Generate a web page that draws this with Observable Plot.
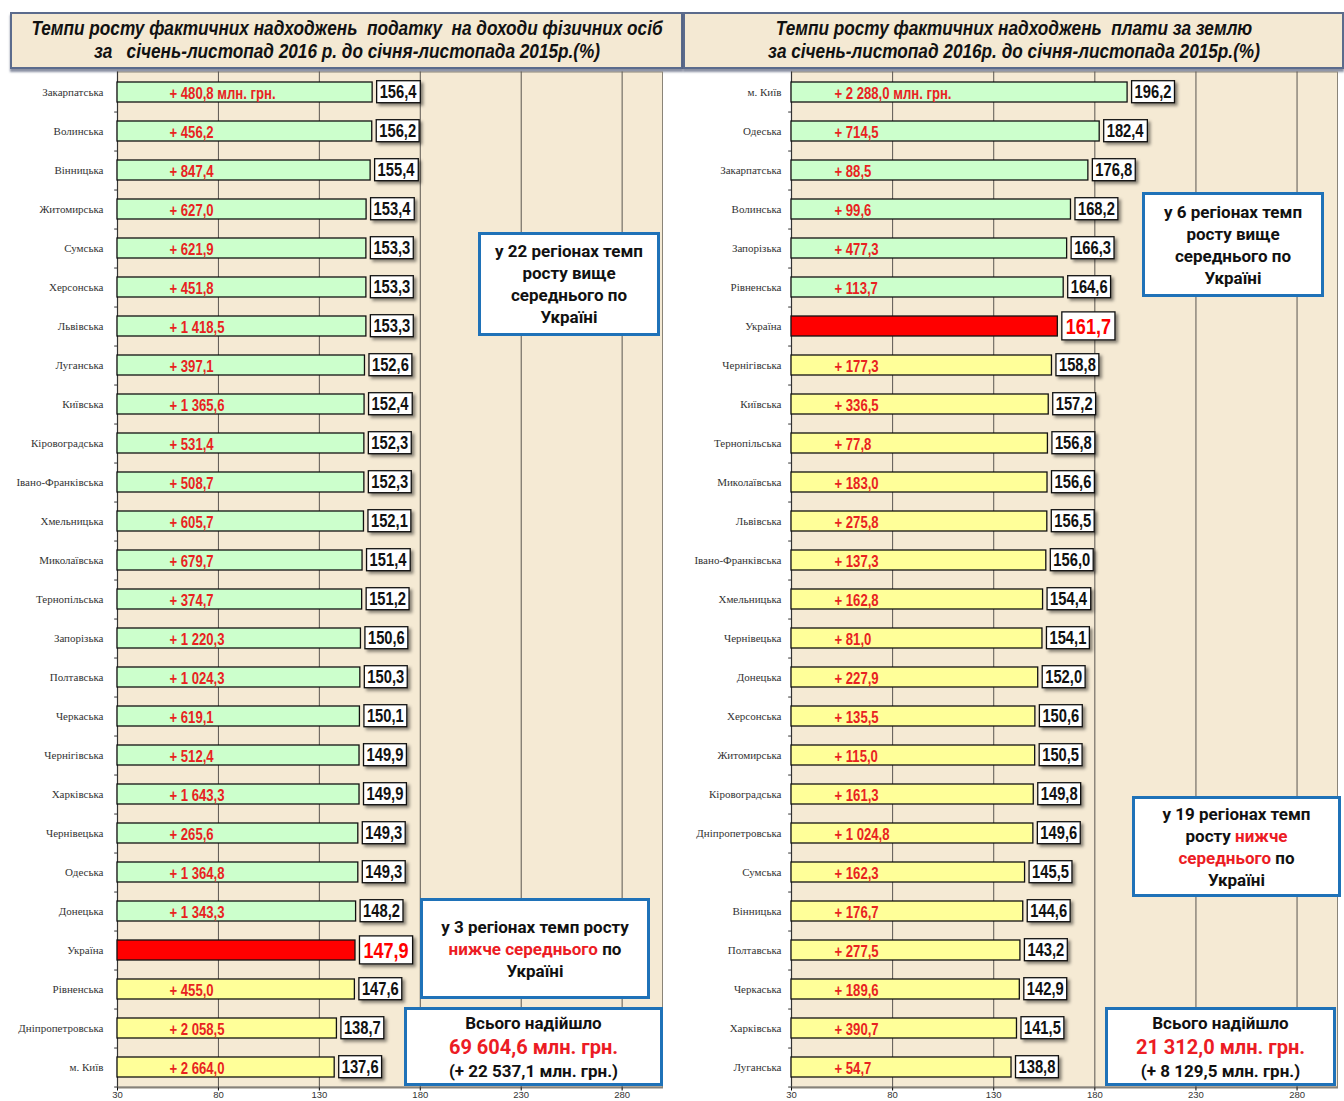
<!DOCTYPE html>
<html><head><meta charset="utf-8">
<script src="https://cdn.jsdelivr.net/npm/d3@7"></script>
<script src="https://cdn.jsdelivr.net/npm/@observablehq/plot@0.6"></script>
<style>
body{margin:0;width:1344px;height:1101px;overflow:hidden;position:relative;background:#fff;}
.title{position:absolute;box-sizing:border-box;background:#f4e9d3;border:2px solid #5b6b8c;box-shadow:0 3px 2px rgba(60,70,100,.6);
 font-family:"Liberation Sans",Arial,sans-serif;font-style:italic;font-weight:bold;font-size:20px;line-height:23px;color:#111;padding-top:3px;overflow:hidden;}
.title span{display:block;position:relative;left:50%;width:max-content;white-space:nowrap;transform:translateX(-50%) scaleX(0.86);transform-origin:center;}
.note{position:absolute;box-sizing:border-box;background:#fff;border:3px solid #1f72b8;font-family:Roboto,"Liberation Sans",sans-serif;font-weight:bold;font-size:17px;line-height:22px;color:#111;text-align:center;display:flex;flex-direction:column;justify-content:center;}
.red{color:#ec1c24;}
.big{font-size:20px;line-height:26px;}
.panel{position:absolute;top:70px;}
</style></head>
<body>
<div class="title" style="left:10px;top:12px;width:673px;height:57px"><span>Темпи росту фактичних надходжень&nbsp; податку&nbsp; на доходи фізичних осіб</span><span>за&nbsp;&nbsp; січень-листопад 2016 р. до січня-листопада 2015р.(%)</span></div>
<div class="title" style="left:683px;top:12px;width:661px;height:57px"><span>Темпи росту фактичних надходжень&nbsp; плати за землю</span><span>за січень-листопад 2016р. до січня-листопада 2015р.(%)</span></div>
<div id="left" class="panel" style="left:0px"></div>
<div id="right" class="panel" style="left:680px"></div>

<div class="note" style="left:478px;top:232px;width:182px;height:104px">у 22 регіонах темп<br>росту вище<br>середнього по<br>Україні</div>
<div class="note" style="left:420px;top:898px;width:230px;height:101px">у 3 регіонах темп росту<br><span><span class="red">нижче середнього</span> по</span>Україні</div>
<div class="note" style="left:404px;top:1007px;width:259px;height:79px">Всього надійшло<br><span class="red big">69 604,6 млн. грн.</span>(+ 22 537,1 млн. грн.)</div>

<div class="note" style="left:1142px;top:192px;width:182px;height:105px">у 6 регіонах темп<br>росту вище<br>середнього по<br>Україні</div>
<div class="note" style="left:1132px;top:796px;width:209px;height:101px">у 19 регіонах темп<br><span>росту <span class="red">нижче</span></span><span><span class="red">середнього</span> по</span>Україні</div>
<div class="note" style="left:1105px;top:1007px;width:231px;height:79px">Всього надійшло<br><span class="red big">21 312,0 млн. грн.</span>(+ 8 129,5 млн. грн.)</div>

<script>
const xTicks = [30, 80, 130, 180, 230, 280];
const averageName = "Україна";

const pitRegions = ["Закарпатська","Волинська","Вінницька","Житомирська","Сумська","Херсонська","Львівська","Луганська","Київська","Кіровоградська","Івано-Франківська","Хмельницька","Миколаївська","Тернопільська","Запорізька","Полтавська","Черкаська","Чернігівська","Харківська","Чернівецька","Одеська","Донецька","Україна","Рівненська","Дніпропетровська","м. Київ"];
const pitValues = [156.4,156.2,155.4,153.4,153.3,153.3,153.3,152.6,152.4,152.3,152.3,152.1,151.4,151.2,150.6,150.3,150.1,149.9,149.9,149.3,149.3,148.2,147.9,147.6,138.7,137.6];
const pitIncrease = [480.8,456.2,847.4,627.0,621.9,451.8,1418.5,397.1,1365.6,531.4,508.7,605.7,679.7,374.7,1220.3,1024.3,619.1,512.4,1643.3,265.6,1364.8,1343.3,null,455.0,2058.5,2664.0];

const landRegions = ["м. Київ","Одеська","Закарпатська","Волинська","Запорізька","Рівненська","Україна","Чернігівська","Київська","Тернопільська","Миколаївська","Львівська","Івано-Франківська","Хмельницька","Чернівецька","Донецька","Херсонська","Житомирська","Кіровоградська","Дніпропетровська","Сумська","Вінницька","Полтавська","Черкаська","Харківська","Луганська"];
const landValues = [196.2,182.4,176.8,168.2,166.3,164.6,161.7,158.8,157.2,156.8,156.6,156.5,156.0,154.4,154.1,152.0,150.6,150.5,149.8,149.6,145.5,144.6,143.2,142.9,141.5,138.8];
const landIncrease = [2288.0,714.5,88.5,99.6,477.3,113.7,null,177.3,336.5,77.8,183.0,275.8,137.3,162.8,81.0,227.9,135.5,115.0,161.3,1024.8,162.3,176.7,277.5,189.6,390.7,54.7];

const sans = '"Liberation Sans",Arial,sans-serif';
const SX = 0.82; // horizontal condensing of bold labels

function fmt(v) {
  const [i, f] = v.toFixed(1).split(".");
  return i.replace(/\B(?=(\d{3})+(?!\d))/g, " ") + "," + f;
}

function panel(el, regions, values, increases, o) {
  const data = regions.map((r, i) => ({region: r, value: values[i], inc: increases[i], i}));
  const avg = data.find(d => d.region === averageName).value;
  const fillOf = d => d.region === averageName ? "#ff0000" : d.value > avg ? "#ccffcc" : "#ffff99";
  const chart = Plot.plot({
    width: o.width, height: 1040,
    marginLeft: o.ml, marginRight: o.mr, marginTop: 1.5, marginBottom: 22.5,
    x: {domain: [30, 300], label: null},
    y: {domain: regions, paddingInner: 0.49, paddingOuter: 0.245, label: null},
    style: {background: "transparent", overflow: "visible"},
    marks: [
      Plot.frame({fill: "#f5ead4", stroke: "#8a8478"}),
      Plot.ruleX(xTicks.slice(1), {stroke: "#5a5650", strokeWidth: 1}),
      Plot.ruleY(regions, {y: d => d, x1: 28.6, x2: 30, dy: 19.54, stroke: "#333"}),
      Plot.ruleX([30], {stroke: "#333", strokeWidth: 1.2}),
      Plot.ruleY([regions[regions.length - 1]], {x1: 30, x2: 300, dy: 19.54, stroke: "#555"}),
      Plot.barX(data, {x1: 30, x2: "value", y: "region", fill: fillOf, stroke: "#111", strokeWidth: 1.3}),
      Plot.text(data.filter(d => d.inc != null), {
        x: 30, y: "region", dx: o.incDx, dy: 1.5, textAnchor: "start",
        text: d => "+ " + fmt(d.inc) + (d.i === 0 ? " млн. грн." : ""),
        fill: "#e8231f", fontWeight: "bold", fontSize: 16, fontFamily: sans
      }),
      Plot.text(data.filter(d => d.region !== averageName), {
        x: "value", y: "region", textAnchor: "start", dx: 7,
        text: d => fmt(d.value),
        fill: "#111", fontSize: 18, fontWeight: "bold", fontFamily: sans
      }),
      Plot.text(data.filter(d => d.region === averageName), {
        x: "value", y: "region", textAnchor: "start", dx: 8,
        text: d => fmt(d.value),
        fill: "#ff0000", fontSize: 22, fontWeight: "bold", fontFamily: sans
      }),
      Plot.axisY({tickSize: 0, tickPadding: o.tp, fontFamily: '"Liberation Serif","DejaVu Serif",serif', fontSize: 11, fill: "#333"}),
      Plot.axisX({ticks: xTicks, tickSize: 3, tickPadding: 0, fontSize: 9.5, fill: "#333", fontFamily: sans})
    ]
  });
  el.appendChild(chart);
  const svg = chart.tagName.toLowerCase() === "svg" ? chart : chart.querySelector("svg");
  const ns = "http://www.w3.org/2000/svg";
  const defs = document.createElementNS(ns, "defs");
  defs.innerHTML = '<filter id="sh' + o.id + '" x="-20%" y="-20%" width="150%" height="160%"><feDropShadow dx="2.5" dy="2.5" stdDeviation="1.5" flood-color="#000" flood-opacity="0.45"/></filter>';
  svg.insertBefore(defs, svg.firstChild);
  const groups = svg.querySelectorAll('g[aria-label="text"]');
  groups.forEach((g, gi) => {
    g.querySelectorAll("text").forEach(t => {
      const tr = t.getAttribute("transform") || "";
      t.setAttribute("transform", tr + " scale(" + SX + ",1)");
      if (gi === 0) return;
      const big = gi === 2;
      const b = t.getBBox();
      const h = big ? 28 : 22, padX = big ? 4 : 3;
      const r = document.createElementNS(ns, "rect");
      r.setAttribute("transform", tr);
      r.setAttribute("x", b.x * SX - padX);
      r.setAttribute("y", b.y + b.height / 2 - h / 2);
      r.setAttribute("width", b.width * SX + padX * 2);
      r.setAttribute("height", h);
      r.setAttribute("fill", "#fff");
      r.setAttribute("stroke", "#111");
      r.setAttribute("stroke-width", "1.3");
      r.setAttribute("filter", "url(#sh" + o.id + ")");
      t.parentNode.insertBefore(r, t);
    });
  });
}

panel(document.getElementById("left"), pitRegions, pitValues, pitIncrease, {id: "L", width: 680, ml: 117, mr: 18, tp: 14, incDx: 52});
panel(document.getElementById("right"), landRegions, landValues, landIncrease, {id: "R", width: 664, ml: 111, mr: 7, tp: 10, incDx: 43});
</script>
</body></html>
